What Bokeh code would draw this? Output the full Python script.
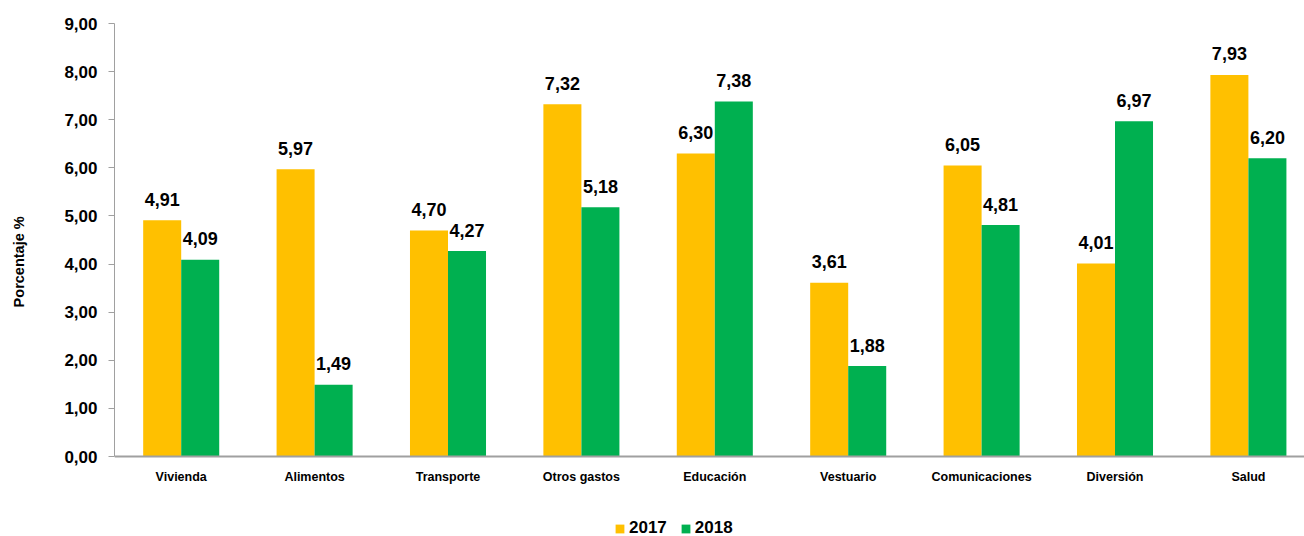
import numpy as np
from bokeh.plotting import figure
from bokeh.models import ColumnDataSource, Range1d, FixedTicker, Legend, LegendItem
from bokeh.core.properties import value
from bokeh.embed import file_html
from bokeh.resources import INLINE

categories = ["Vivienda", "Alimentos", "Transporte", "Otros gastos", "Educación",
              "Vestuario", "Comunicaciones", "Diversión", "Salud"]
values_2017 = [4.91, 5.97, 4.70, 7.32, 6.30, 3.61, 6.05, 4.01, 7.93]
values_2018 = [4.09, 1.49, 4.27, 5.18, 7.38, 1.88, 4.81, 6.97, 6.20]
series_names = ["2017", "2018"]
y_ticks = [0, 1, 2, 3, 4, 5, 6, 7, 8, 9]
y_title = "Porcentaje %"

C17 = "#FFC000"
C18 = "#00B050"
ARIAL = "Liberation Sans"
BW = 0.285

# layout (pixels)
W, H = 1304, 536
LEFT, TOP, ZERO_Y = 114, 23, 456
PITCH = 133.4
Y_MAX = 9
px_per_unit = (ZERO_Y - TOP) / Y_MAX
y_start = -(H - ZERO_Y) / px_per_unit
x_end = (W - LEFT) / PITCH

def fmt(v):
    return f"{v:.2f}".replace(".", ",")

centers = np.arange(len(categories)) + 0.5
src17 = ColumnDataSource(dict(x=centers - BW / 2, top=values_2017,
                              lbl=[fmt(v) for v in values_2017]))
src18 = ColumnDataSource(dict(x=centers + BW / 2, top=values_2018,
                              lbl=[fmt(v) for v in values_2018]))

p = figure(width=W, height=H, output_backend="svg", toolbar_location=None,
           x_range=Range1d(0, x_end), y_range=Range1d(y_start, Y_MAX),
           min_border_left=LEFT, min_border_right=0, min_border_top=TOP,
           min_border_bottom=0)
p.outline_line_color = None
p.xgrid.grid_line_color = None
p.ygrid.grid_line_color = None
p.background_fill_color = "white"

r17 = p.vbar(x="x", top="top", bottom=0, width=BW, source=src17, fill_color=C17, line_color=None)
r18 = p.vbar(x="x", top="top", bottom=0, width=BW, source=src18, fill_color=C18, line_color=None)

for s in (src17, src18):
    p.text(x="x", y="top", text="lbl", source=s, text_align="center",
           text_baseline="alphabetic", y_offset=-21, text_font=value(ARIAL),
           text_font_size="18px", text_font_style="bold", text_color="black")

# x axis, drawn at y = 0
p.xaxis.fixed_location = 0
p.xaxis.ticker = FixedTicker(ticks=list(centers))
p.xaxis.major_label_overrides = {float(c): n for c, n in zip(centers, categories)}
p.xaxis.major_tick_line_color = None
p.xaxis.minor_tick_line_color = None
p.xaxis.axis_line_color = "#A0A0A0"
p.xaxis.axis_line_width = 2
p.xaxis.major_label_standoff = 7
p.xaxis.major_label_text_font = ARIAL
p.xaxis.major_label_text_font_size = "12.5px"
p.xaxis.major_label_text_font_style = "bold"
p.xaxis.major_label_text_color = "black"

# y axis
p.yaxis.bounds = (0, Y_MAX)
p.yaxis.ticker = FixedTicker(ticks=y_ticks)
p.yaxis.major_label_overrides = {t: f"{t},00" for t in y_ticks}
p.yaxis.major_tick_out = 6
p.yaxis.major_tick_in = 0
p.yaxis.major_tick_line_color = "#A0A0A0"
p.yaxis.minor_tick_line_color = None
p.yaxis.axis_line_color = "#A0A0A0"
p.yaxis.major_label_standoff = 11
p.yaxis.major_label_text_font = ARIAL
p.yaxis.major_label_text_font_size = "17px"
p.yaxis.major_label_text_font_style = "bold"
p.yaxis.major_label_text_color = "black"
# leading no-break spaces shift the rotated title up to sit beside the plot area
p.yaxis.axis_label = "\u00a0" * 9 + y_title
p.yaxis.axis_label_standoff = 34
p.yaxis.axis_label_text_font = ARIAL
p.yaxis.axis_label_text_font_size = "14.5px"
p.yaxis.axis_label_text_font_style = "bold"
p.yaxis.axis_label_text_color = "black"

legend = Legend(items=[LegendItem(label=series_names[0], renderers=[r17]),
                       LegendItem(label=series_names[1], renderers=[r18])],
                orientation="horizontal", location=(500, -2),
                glyph_width=11, glyph_height=11, label_standoff=4, spacing=13,
                padding=0, margin=0, border_line_color=None,
                background_fill_alpha=0,
                label_text_font=ARIAL, label_text_font_size="17px",
                label_text_font_style="bold", label_text_color="black",
                label_height=20)
p.add_layout(legend, "center")

open("out.html", "w").write(file_html(p, INLINE))
